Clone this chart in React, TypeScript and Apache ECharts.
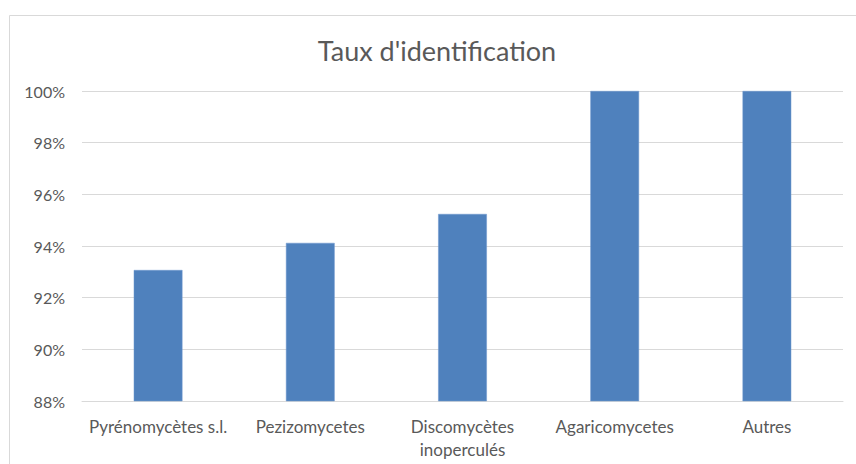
import React, { useEffect, useRef } from "react";
import * as echarts from "echarts";

const categories = ["Pyrénomycètes s.l.", "Pezizomycetes", "Discomycètes\ninoperculés", "Agaricomycetes", "Autres"];
const values = [93.07, 94.12, 95.24, 100, 100];
const yMin = 88;
const yMax = 100;
const yStep = 2;
const title = "Taux d'identification";

export default function App() {
  const ref = useRef<HTMLDivElement>(null);
  useEffect(() => {
    const chart = echarts.init(ref.current!, null, { renderer: "svg" });
    const font = "Lato, 'Open Sans', sans-serif";
    chart.setOption({
      animation: false,
      backgroundColor: "#fff",
      textStyle: { fontFamily: font },
      title: {
        text: title,
        left: 432,
        top: 32,
        textAlign: "center",
        textStyle: { fontFamily: font, fontSize: 27, fontWeight: "normal", color: "#595959" },
      },
      graphic: [
        {
          type: "rect",
          shape: { x: 9.5, y: 15.5, width: 900, height: 500 },
          style: { fill: "none", stroke: "#d9d9d9", lineWidth: 1 },
          silent: true,
        },
      ],
      grid: { left: 82, right: 13, top: 91, bottom: 63, containLabel: false },
      xAxis: {
        type: "category",
        data: categories,
        axisTick: { show: false },
        axisLine: { show: true, lineStyle: { color: "#d9d9d9", width: 1 } },
        axisLabel: { color: "#595959", fontSize: 17, margin: 14, lineHeight: 23, fontFamily: font, interval: 0 },
      },
      yAxis: {
        type: "value",
        min: yMin,
        max: yMax,
        interval: yStep,
        axisLine: { show: false },
        axisTick: { show: false },
        splitLine: { lineStyle: { color: "#d9d9d9", width: 1 } },
        axisLabel: { formatter: (v: number) => v + "%", color: "#595959", fontSize: 16, margin: 17, fontFamily: font },
      },
      series: [
        {
          type: "bar",
          data: values,
          barWidth: "32%",
          itemStyle: { color: "#4f81bd", borderColor: "#6e98ce", borderWidth: 0.5 },
        },
      ],
    });
    return () => chart.dispose();
  }, []);
  return <div ref={ref} style={{ width: 856, height: 464, position: "absolute", left: 0, top: 0 }} />;
}
